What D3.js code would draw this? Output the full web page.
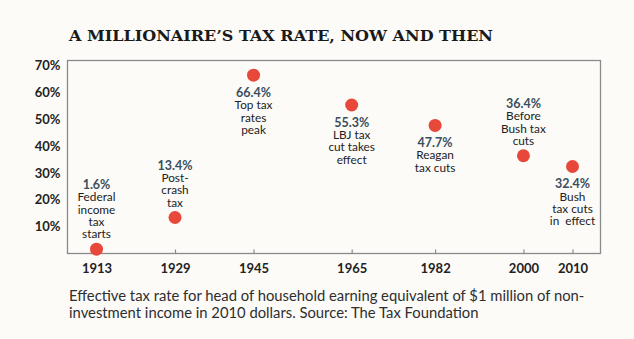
<!DOCTYPE html>
<html>
<head>
<meta charset="utf-8">
<script src="https://cdn.jsdelivr.net/npm/d3@7"></script>
<style>
  html, body { margin: 0; padding: 0; background: #fcfbf8; }
  svg { display: block; }
</style>
</head>
<body>
<svg id="chart" width="634" height="339"></svg>
<script>
// ---- Data ----
const years = [1913, 1929, 1945, 1965, 1982, 2000, 2010];
const rates = [1.6, 13.4, 66.4, 55.3, 47.7, 36.4, 32.4];
const valueLabels = ["1.6%", "13.4%", "66.4%", "55.3%", "47.7%", "36.4%", "32.4%"];
const notes = [
  ["Federal", "income", "tax", "starts"],
  ["Post-", "crash", "tax"],
  ["Top tax", "rates", "peak"],
  ["LBJ tax", "cut takes", "effect"],
  ["Reagan", "tax cuts"],
  ["Before", "Bush tax", "cuts"],
  ["Bush", "tax cuts", "in  effect"]
];
const notePlacement = ["above", "above", "below", "below", "below", "above", "below"];
const yTicks = [10, 20, 30, 40, 50, 60, 70];
const yTickLabels = ["10%", "20%", "30%", "40%", "50%", "60%", "70%"];
const title = "A MILLIONAIRE\u2019S TAX RATE, NOW AND THEN";
const caption = [
  "Effective tax rate for head of household earning equivalent of $1 million of non-",
  "investment income in 2010 dollars. Source: The Tax Foundation"
];

// ---- Layout ----
const svg = d3.select("#chart");
const box = { left: 67.5, top: 60.5, right: 600.5, bottom: 253.5 };

const x = d3.scaleLinear().domain([1913, 2010]).range([96.5, 572.5]);
const y = d3.scaleLinear().domain([0, 70]).range([253.5, 65.5]);

// Title
svg.append("text")
  .attr("x", 69).attr("y", 41)
  .attr("font-family", "DejaVu Serif")
  .attr("font-weight", "bold")
  .attr("font-size", 15.5)
  .attr("fill", "#1a1a1a")
  .attr("textLength", 424)
  .attr("lengthAdjust", "spacingAndGlyphs")
  .text(title);

// Box
svg.append("rect")
  .attr("x", box.left).attr("y", box.top)
  .attr("width", box.right - box.left).attr("height", box.bottom - box.top)
  .attr("fill", "none")
  .attr("stroke", "#8a8a8a")
  .attr("stroke-width", 1.3);

// Y axis labels
const yAxis = d3.axisLeft(y).tickValues(yTicks).tickSize(0).tickPadding(7)
  .tickFormat((d, i) => yTickLabels[i]);
const gy = svg.append("g").attr("transform", `translate(${box.left},0)`).call(yAxis);
gy.select(".domain").remove();
gy.selectAll("text")
  .attr("font-family", "Lato").attr("font-weight", "bold")
  .attr("font-size", 13).attr("fill", "#222");

// X axis
const xAxis = d3.axisBottom(x).tickValues(years).tickSizeInner(-4).tickSizeOuter(0)
  .tickPadding(10).tickFormat(d3.format("d"));
const gx = svg.append("g").attr("transform", `translate(0,${box.bottom})`).call(xAxis);
gx.select(".domain").remove();
gx.selectAll("line").attr("stroke", "#8a8a8a").attr("stroke-width", 1.2);
gx.selectAll("text")
  .attr("font-family", "Lato").attr("font-weight", "bold")
  .attr("font-size", 13).attr("fill", "#222");

// Dots
svg.append("g").selectAll("circle")
  .data(years)
  .join("circle")
  .attr("cx", (d) => x(d))
  .attr("cy", (d, i) => y(rates[i]))
  .attr("r", 6.5)
  .attr("fill", "#e8483a");

// Annotations: one text element per annotation, lines as tspans
const lineH = 12.4;
years.forEach((yr, i) => {
  const cx = x(yr);
  const cy = y(rates[i]);
  const lines = notes[i];
  const startY = notePlacement[i] === "above"
    ? cy - 15 - lines.length * lineH
    : cy + 17.5;
  const t = svg.append("text")
    .attr("x", cx).attr("y", startY + 4.2)
    .attr("text-anchor", "middle")
    .attr("font-family", "Lato")
    .style("white-space", "pre");
  t.append("tspan")
    .attr("x", cx).attr("y", startY + 4.2)
    .attr("font-weight", "bold")
    .attr("font-size", 12.5).attr("fill", "#3b4e5e")
    .text(valueLabels[i]);
  lines.forEach((ln, j) => {
    t.append("tspan")
      .attr("x", cx).attr("y", startY + (j + 1) * lineH + 4.2)
      .attr("font-size", 11.8).attr("fill", "#222")
      .text(ln);
  });
});

// Caption
const cap = svg.append("text")
  .attr("font-family", "Lato")
  .attr("font-size", 14.8).attr("fill", "#2e2e2e");
caption.forEach((c, i) => {
  cap.append("tspan")
    .attr("x", 69).attr("y", 301 + i * 16.5)
    .text(c);
});
</script>
</body>
</html>
